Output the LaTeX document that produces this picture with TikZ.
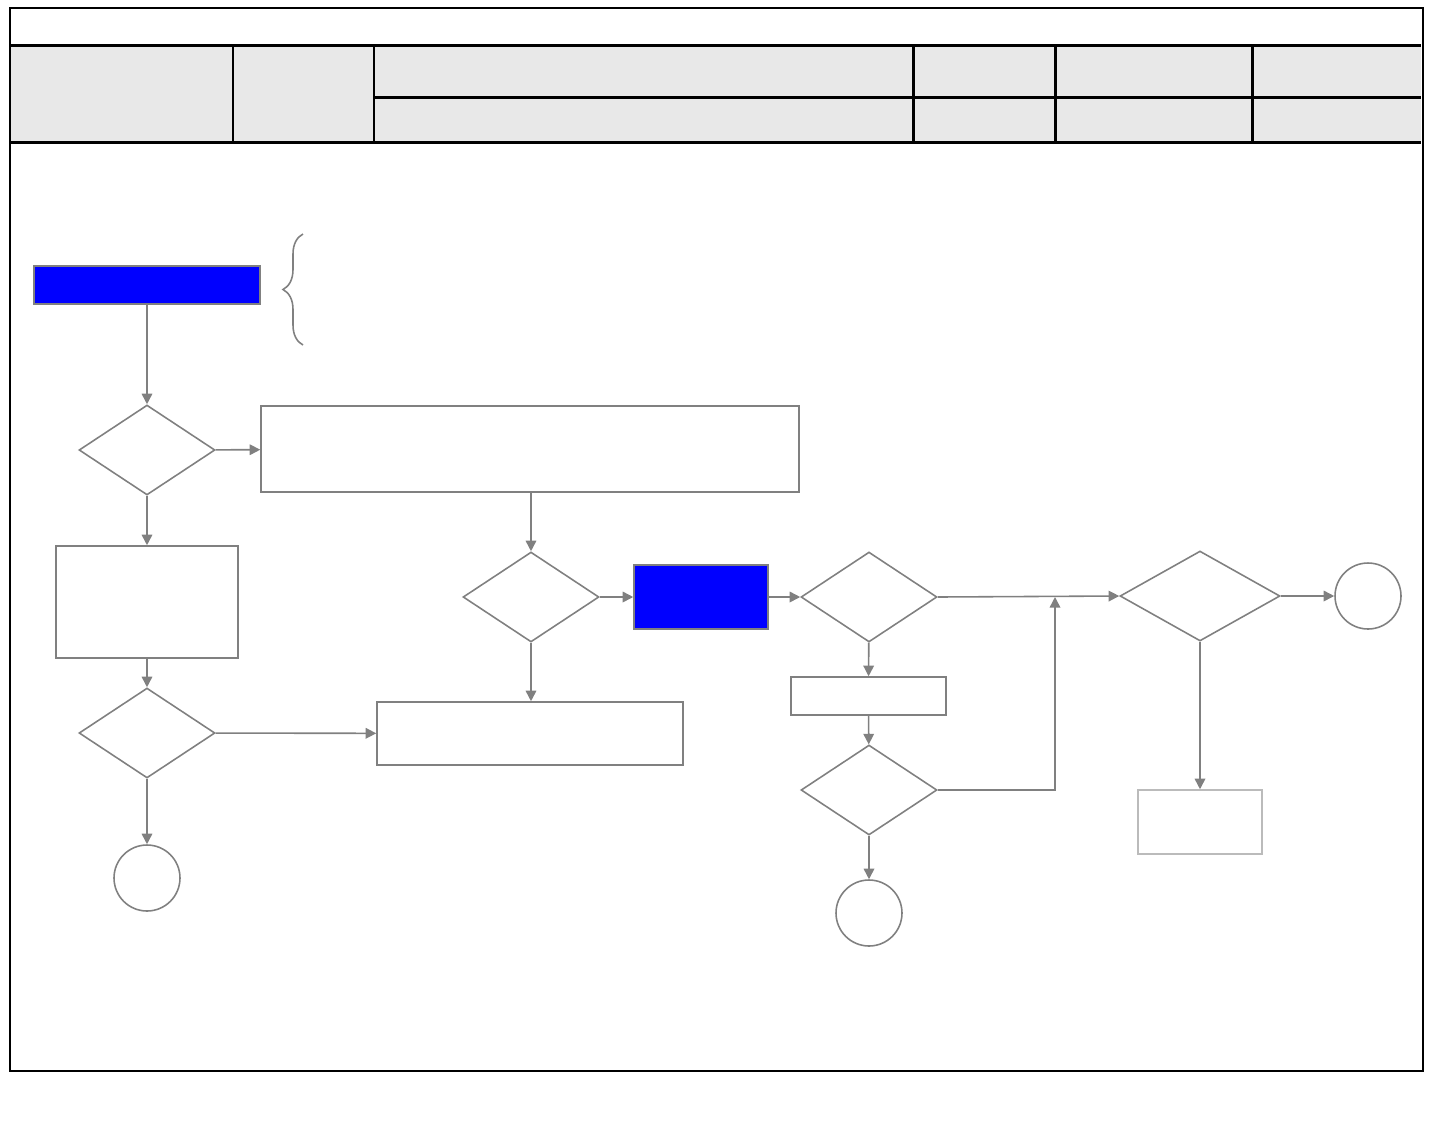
\documentclass[tikz,border=0pt]{standalone}
\usepackage{tikz}
\usetikzlibrary{arrows.meta,shapes,calc,decorations.pathreplacing}
\usetikzlibrary{positioning}
\definecolor{linegrey}{HTML}{808080}
\definecolor{headgrey}{HTML}{E8E8E8}
\definecolor{palegrey}{HTML}{BBBBBB}
\definecolor{boxblue}{HTML}{0000FF}
\tikzset{
    box/.style={
           rectangle,
           draw=linegrey, line width=0.9pt,
           inner sep=0pt,
           },
    bluebox/.style={
           box,
           fill=boxblue,
           },
    choice/.style={
           diamond,
           draw=linegrey, line width=0.9pt,
           inner sep=0pt,
           },
    stop/.style={
           circle,
           draw=linegrey, line width=0.9pt,
           inner sep=0pt,
           minimum size=1.32cm,
           },
    pil/.style={
           -{Triangle[length=6pt,width=6pt]},
           draw=linegrey,
           line width=0.9pt,
           },
    rule/.style={
           draw=black, line width=1.7pt,
           }
}

\begin{document}
\begin{tikzpicture}[x=0.02cm,y=-0.02cm]
\useasboundingbox (0,0) rectangle (1440,1137);
% header table
\fill[headgrey] (10,45) rectangle (1421,142);
\draw[black, line width=1.4pt] (10,8) rectangle (1423,1071);
\draw[rule] (10,45) -- (1421,45);
\draw[rule] (10,142) -- (1421,142);
\draw[rule] (374,97) -- (1421,97);
\foreach \xc in {233,374,913,1055,1252}
  \draw[rule] (\xc,45) -- (\xc,142);
% left column
\node[bluebox, minimum width=4.52cm, minimum height=0.76cm] (b1) at (147,285) {};
\draw[linegrey, line width=0.9pt, decorate,
      decoration={brace, amplitude=0.4cm}] (303,345) -- (303,234);
\node[choice, minimum width=2.72cm, minimum height=1.8cm] (d1) at (147,450) {};
\node[box, minimum width=10.76cm, minimum height=1.72cm] (r1) at (530,449) {};
\node[box, minimum width=3.64cm, minimum height=2.24cm] (r2) at (147,602) {};
\node[choice, minimum width=2.72cm, minimum height=1.8cm] (d2) at (147,733) {};
\node[box, minimum width=6.12cm, minimum height=1.26cm] (r3) at (530,733.5) {};
\node[stop] (c1) at (147,878) {};
% middle
\node[choice, minimum width=2.72cm, minimum height=1.8cm] (d3) at (531,597) {};
\node[bluebox, minimum width=2.68cm, minimum height=1.28cm] (b2) at (701,597) {};
\node[choice, minimum width=2.72cm, minimum height=1.8cm] (d4) at (869,597) {};
\node[box, minimum width=3.1cm, minimum height=0.76cm] (r4) at (868.5,696) {};
\node[choice, minimum width=2.72cm, minimum height=1.8cm] (d5) at (869,790) {};
\node[stop] (c2) at (869,913) {};
\coordinate (j1) at (1055,597);
% right
\node[choice, minimum width=3.2cm, minimum height=1.8cm] (d6) at (1200,596) {};
\node[stop] (c3) at (1368,596) {};
\node[box, draw=palegrey, minimum width=2.48cm, minimum height=1.28cm] (r5) at (1200,822) {};
% connectors
\path (b1) edge[pil] (d1);
\path (d1) edge[pil] (r1);
\path (d1) edge[pil] (r2);
\path (r2) edge[pil] (d2);
\path (d2) edge[pil] (r3);
\path (d2) edge[pil] (c1);
\path (r1.south -| d3) edge[pil] (d3);
\path (d3) edge[pil] (b2);
\path (d3) edge[pil] (d3 |- r3.north);
\path (b2) edge[pil] (d4);
\draw[pil] (d4.east) -- (d6.west);
\path (d4) edge[pil] (r4);
\path (r4) edge[pil] (d5);
\path (d5) edge[pil] (c2);
\draw[pil] (d5.east) -- (j1 |- d5.east) -- (j1);
\path (d6) edge[pil] (c3);
\path (d6) edge[pil] (r5);
\end{tikzpicture}
\end{document}
